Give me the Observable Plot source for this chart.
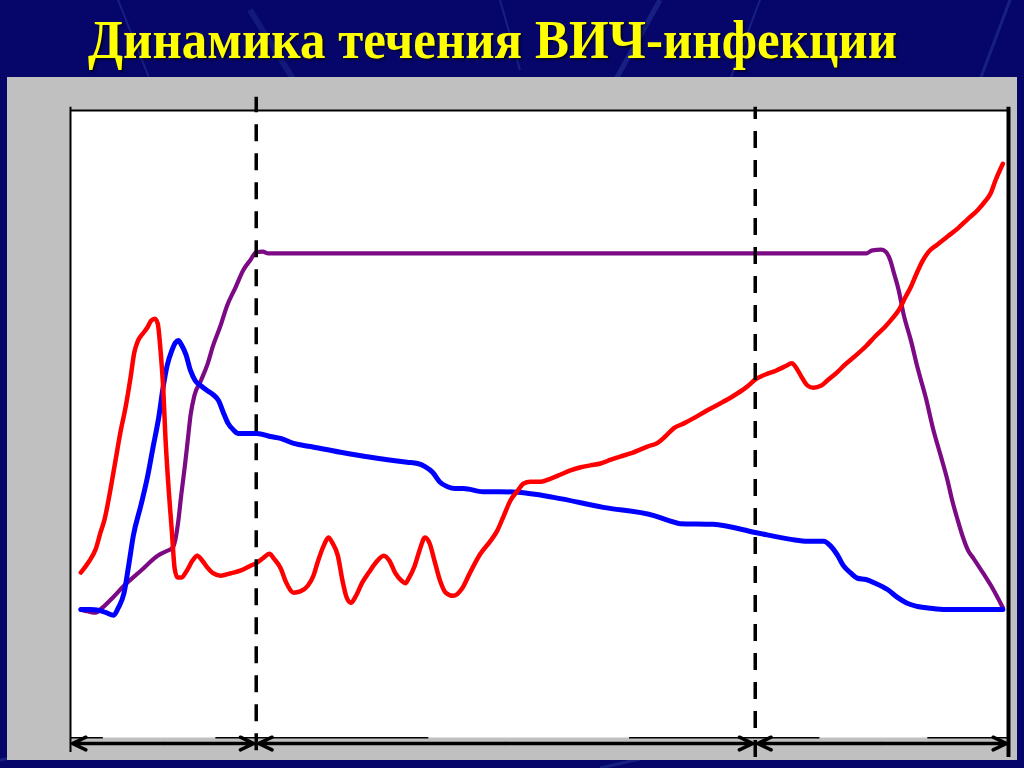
<!DOCTYPE html>
<html>
<head>
<meta charset="utf-8">
<script src="https://cdn.jsdelivr.net/npm/d3@7"></script>
<script src="https://cdn.jsdelivr.net/npm/@observablehq/plot@0.6"></script>
<style>
html,body{margin:0;padding:0;width:1024px;height:768px;overflow:hidden;background:#06066a;}
#bg{position:absolute;left:0;top:0;width:1024px;height:768px;}
#panel{position:absolute;left:7px;top:77px;width:1010px;height:683px;background:#c0c0c0;}
#title{position:absolute;left:88px;top:13px;font-family:"Liberation Serif","DejaVu Serif",serif;font-weight:bold;font-size:54px;line-height:54px;color:#ffff00;white-space:nowrap;transform-origin:0 0;text-shadow:2px 2px 2px rgba(0,0,0,0.55);}
#chart{position:absolute;left:0;top:0;}
</style>
</head>
<body>
<svg id="bg" width="1024" height="768">
  <rect width="1024" height="768" fill="#06066a"/>
  <g stroke="#3a4fb0" stroke-opacity="0.35" fill="none">
    <line x1="118" y1="0" x2="150" y2="80" stroke-width="2"/>
    <line x1="250" y1="10" x2="300" y2="90" stroke-width="6" stroke-opacity="0.25"/>
    <line x1="660" y1="0" x2="610" y2="90" stroke-width="5"/>
    <line x1="500" y1="0" x2="520" y2="70" stroke-width="2"/>
    <line x1="760" y1="0" x2="730" y2="80" stroke-width="2"/>
    <line x1="1010" y1="0" x2="980" y2="80" stroke-width="3"/>
    <line x1="0" y1="760" x2="300" y2="700" stroke-width="3"/>
    <line x1="600" y1="768" x2="900" y2="700" stroke-width="3"/>
  </g>
</svg>
<div id="panel"></div>
<div id="title">Динамика течения ВИЧ-инфекции</div>
<div id="chart"></div>
<script>
// Conditional time axis (0–100 across the chart) and relative level (0–100)
const redTime = [1.1,1.9,2.7,3.2,3.6,4.3,4.8,5.3,5.9,6.4,6.8,7.2,7.7,8.2,8.6,9.0,9.3,9.6,9.9,10.1,10.4,10.8,11.1,11.4,11.8,12.4,13.0,13.5,14.1,14.6,15.2,16.0,17.1,18.1,19.2,19.9,20.6,21.2,21.7,22.4,23.0,23.8,24.5,25.3,25.9,26.4,27.0,27.5,27.9,28.5,29.0,29.4,29.9,30.4,31.1,31.8,32.5,33.4,34.0,34.6,35.3,35.7,36.1,36.7,37.2,37.8,38.3,38.8,39.4,40.0,40.8,41.8,42.6,43.7,44.8,45.5,46.2,46.9,47.7,48.3,49.0,50.1,51.2,52.2,53.3,54.4,55.4,56.5,57.6,58.6,59.7,61.5,62.6,63.4,64.3,65.4,66.4,67.9,69.3,70.7,72.0,73.2,74.1,75.2,76.2,76.9,77.4,77.9,78.6,79.2,80.0,80.8,81.7,82.6,83.7,84.8,85.8,86.9,87.6,88.4,89.0,89.6,90.2,90.8,91.5,92.4,93.5,94.6,95.6,96.7,97.5,98.1,98.6,99.4];
const redLevel = [26.3,27.9,30.1,32.7,34.6,39.9,44.2,48.5,52.9,57.4,61.4,63.3,64.4,65.4,66.5,66.8,66.0,61.7,55.3,48.5,41.0,33.0,27.0,25.5,25.5,26.6,28.2,29.0,28.1,27.1,26.2,25.8,26.2,26.6,27.4,27.9,28.7,29.3,28.5,27.0,24.7,23.1,23.3,24.2,25.8,28.2,30.6,31.9,31.1,29.0,25.0,22.5,21.5,22.5,24.7,26.3,27.8,29.0,28.2,26.3,25.0,24.6,25.5,27.4,29.8,31.9,30.9,28.2,25.0,23.1,22.6,23.9,26.3,29.3,31.4,33.0,35.4,37.8,39.4,40.5,40.8,40.8,41.3,41.9,42.6,43.1,43.4,43.7,44.3,44.8,45.3,46.4,47.0,48.0,49.3,50.1,50.9,52.2,53.3,54.5,55.8,57.3,57.9,58.5,59.2,59.7,58.9,57.6,56.1,55.8,56.1,57.1,58.2,59.5,60.9,62.4,64.0,65.6,66.8,68.4,70.2,71.9,74.0,75.9,77.5,78.6,79.9,81.2,82.6,84.1,85.5,86.8,88.8,91.5];

const blueTime = [1.1,2.1,3.0,3.8,4.6,5.1,5.7,6.2,6.7,7.5,8.2,8.8,9.4,9.9,10.3,10.8,11.2,11.5,11.8,12.3,12.8,13.3,13.9,14.6,15.2,15.8,16.3,16.8,17.4,17.9,19.0,19.9,21.3,22.4,23.8,25.6,28.8,32.0,35.9,37.0,37.8,38.6,39.4,40.2,41.0,41.9,44.0,45.8,47.7,51.5,56.8,62.2,63.8,65.0,68.5,73.0,76.8,78.6,80.3,81.0,81.8,82.4,83.2,83.9,84.8,85.8,87.1,88.2,89.2,90.3,91.7,93.3,95.9,99.4];
const blueLevel = [20.4,20.4,20.3,19.9,19.5,20.7,23.0,27.4,32.2,37.0,41.5,46.3,51.0,56.1,59.3,61.7,63.0,63.3,62.7,61.1,58.5,56.9,56.1,55.3,54.7,53.7,51.8,50.1,49.0,48.5,48.5,48.5,48.0,47.7,46.9,46.4,45.5,44.7,43.9,43.7,43.2,42.3,40.7,40.0,39.7,39.7,39.2,39.2,39.1,38.3,36.7,35.4,34.6,34.1,34.0,32.7,31.6,31.3,31.3,30.6,29.0,27.4,26.2,25.4,25.2,24.6,23.6,22.3,21.4,20.9,20.6,20.4,20.4,20.4];

const purpleTime = [1.1,1.9,2.7,3.4,4.5,5.7,7.5,9.3,10.2,10.9,11.2,11.5,11.8,12.2,12.5,12.8,13.2,13.9,14.6,15.2,16.0,16.7,17.6,18.4,19.2,19.8,20.5,21.1,24.5,84.8,85.5,86.4,86.9,87.4,87.8,88.3,88.8,89.6,90.3,91.2,92.0,92.8,93.5,94.0,94.6,95.2,95.7,96.3,97.3,98.3,99.4];
const purpleLevel = [20.4,20.1,19.9,20.7,22.3,24.2,26.6,29.0,29.7,30.3,31.7,34.6,38.6,43.4,47.4,51.4,54.5,56.9,59.5,62.5,65.7,68.9,71.8,74.5,76.2,77.4,77.5,77.2,77.2,77.2,77.7,77.8,77.5,76.1,74.0,71.3,67.6,63.3,59.0,54.1,49.0,44.8,41.0,37.8,34.6,31.7,29.8,28.5,26.2,23.8,20.7];

// Phase boundaries (acute / latent / advanced)
const phaseBounds = [19.8, 73.0];

const toRows = (ts, vs) => ts.map((t, i) => ({t, v: vs[i]}));
const red = toRows(redTime, redLevel);
const blue = toRows(blueTime, blueLevel);
const purple = toRows(purpleTime, purpleLevel);

const edges = [0, ...phaseBounds, 100];
const phases = d3.pairs(edges).map(([a, b]) => ({a, b, m: (a + b) / 2}));
const arrowRows = phases.flatMap(p => [
  {from: p.m, to: p.a + (p.a === 0 ? 0.2 : 0.25)},
  {from: p.m, to: p.b - (p.b === 100 ? 0.2 : 0.25)}
]);
// visible pieces of the baseline
const baseSegs = [[0, 3.5], [15.5, 38.2], [59.6, 79.9], [91.4, 100]];

const chart = Plot.plot({
  width: 1024,
  height: 768,
  marginLeft: 70,
  marginRight: 16,
  marginTop: 110,
  marginBottom: 31,
  x: {domain: [0, 100], axis: null},
  y: {domain: [0, 100], axis: null},
  style: {background: "transparent", overflow: "visible"},
  marks: [
    Plot.frame({fill: "white", stroke: "none"}),
    Plot.ruleY(baseSegs, {y: -0.05, x1: d => d[0], x2: d => d[1], stroke: "black", strokeWidth: 1.5}),
    Plot.line(purple, {x: "t", y: "v", stroke: "#7d0a85", strokeWidth: 4.2, curve: "monotone-x"}),
    Plot.line(blue, {x: "t", y: "v", stroke: "#0000ff", strokeWidth: 5, curve: "monotone-x"}),
    Plot.line(red, {x: "t", y: "v", stroke: "#ff0000", strokeWidth: 4.5, curve: "monotone-x"}),
    Plot.ruleX([phaseBounds[0]], {y1: -2.1, y2: 102.1, stroke: "black", strokeWidth: 3.5, strokeDasharray: "17,12"}),
    Plot.ruleX([phaseBounds[1]], {y1: -3.2, y2: 100.5, stroke: "black", strokeWidth: 3.5, strokeDasharray: "17,12"}),
    Plot.ruleY([100], {x1: 0, x2: 100, stroke: "black", strokeWidth: 2}),
    Plot.ruleX([0], {y1: -2.4, y2: 100.5, stroke: "black", strokeWidth: 2}),
    Plot.ruleX([100], {y1: -3.2, y2: 100.5, stroke: "black", strokeWidth: 4}),
    Plot.arrow(arrowRows, {x1: "from", x2: "to", y1: -0.96, y2: -0.96, stroke: "black", strokeWidth: 3.5, headLength: 6.4, headAngle: 50})
  ]
});
document.getElementById("chart").appendChild(chart);

// fit title width to the reference (condensed bold serif)
const title = document.getElementById("title");
const w = title.getBoundingClientRect().width;
title.style.transform = `scaleX(${809 / w})`;
</script>
</body>
</html>
